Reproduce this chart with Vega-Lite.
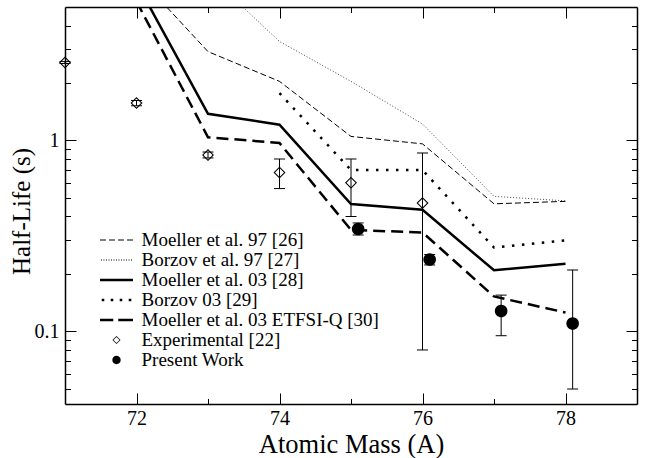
{
  "$schema": "https://vega.github.io/schema/vega-lite/v6.json",
  "width": 572,
  "height": 397,
  "autosize": "none",
  "padding": {"left": 65, "top": 7, "right": 10, "bottom": 54},
  "background": "white",
  "config": {
    "view": {"stroke": null},
    "font": "Liberation Serif",
    "axis": {
      "grid": false,
      "domainColor": "black",
      "domainWidth": 1.5,
      "tickColor": "black",
      "tickWidth": 1,
      "labelColor": "black",
      "labelFont": "Liberation Serif",
      "labelFontSize": 20,
      "titleFont": "Liberation Serif",
      "titleColor": "black",
      "titleFontWeight": "normal",
      "labelFlush": false,
      "labelOverlap": false
    }
  },
  "data": {
    "values": [
      {"series": "Moeller et al. 97 [26]", "A": 72, "T": 7.4},
      {"series": "Moeller et al. 97 [26]", "A": 73, "T": 2.92},
      {"series": "Moeller et al. 97 [26]", "A": 74, "T": 2.04},
      {"series": "Moeller et al. 97 [26]", "A": 75, "T": 1.05},
      {"series": "Moeller et al. 97 [26]", "A": 76, "T": 0.96},
      {"series": "Moeller et al. 97 [26]", "A": 77, "T": 0.466},
      {"series": "Moeller et al. 97 [26]", "A": 78, "T": 0.48},
      {"series": "Borzov et al. 97 [27]", "A": 73, "T": 7.4},
      {"series": "Borzov et al. 97 [27]", "A": 74, "T": 3.3},
      {"series": "Borzov et al. 97 [27]", "A": 75, "T": 2.04},
      {"series": "Borzov et al. 97 [27]", "A": 76, "T": 1.22},
      {"series": "Borzov et al. 97 [27]", "A": 77, "T": 0.51},
      {"series": "Borzov et al. 97 [27]", "A": 78, "T": 0.483},
      {"series": "Moeller et al. 03 [28]", "A": 72, "T": 6.7},
      {"series": "Moeller et al. 03 [28]", "A": 73, "T": 1.38},
      {"series": "Moeller et al. 03 [28]", "A": 74, "T": 1.21},
      {"series": "Moeller et al. 03 [28]", "A": 75, "T": 0.465},
      {"series": "Moeller et al. 03 [28]", "A": 76, "T": 0.434},
      {"series": "Moeller et al. 03 [28]", "A": 77, "T": 0.209},
      {"series": "Moeller et al. 03 [28]", "A": 78, "T": 0.226},
      {"series": "Borzov 03 [29]", "A": 74, "T": 1.77},
      {"series": "Borzov 03 [29]", "A": 75, "T": 0.7},
      {"series": "Borzov 03 [29]", "A": 76, "T": 0.7},
      {"series": "Borzov 03 [29]", "A": 77, "T": 0.275},
      {"series": "Borzov 03 [29]", "A": 78, "T": 0.3},
      {"series": "Moeller et al. 03 ETFSI-Q [30]", "A": 72, "T": 5.35},
      {"series": "Moeller et al. 03 ETFSI-Q [30]", "A": 73, "T": 1.04},
      {"series": "Moeller et al. 03 ETFSI-Q [30]", "A": 74, "T": 0.97},
      {"series": "Moeller et al. 03 ETFSI-Q [30]", "A": 75, "T": 0.34},
      {"series": "Moeller et al. 03 ETFSI-Q [30]", "A": 76, "T": 0.33},
      {"series": "Moeller et al. 03 ETFSI-Q [30]", "A": 77, "T": 0.1525},
      {"series": "Moeller et al. 03 ETFSI-Q [30]", "A": 78, "T": 0.1257},
      {"series": "Experimental [22]", "A": 71, "T": 2.56, "lo": 2.53, "hi": 2.59},
      {"series": "Experimental [22]", "A": 72, "T": 1.57, "lo": 1.52, "hi": 1.62},
      {"series": "Experimental [22]", "A": 73, "T": 0.84, "lo": 0.81, "hi": 0.87},
      {"series": "Experimental [22]", "A": 74, "T": 0.68, "lo": 0.56, "hi": 0.8},
      {"series": "Experimental [22]", "A": 75, "T": 0.6, "lo": 0.4, "hi": 0.8},
      {"series": "Experimental [22]", "A": 76, "T": 0.47, "lo": 0.08, "hi": 0.86},
      {"series": "Present Work", "A": 75.1, "T": 0.344, "lo": 0.32, "hi": 0.37},
      {"series": "Present Work", "A": 76.1, "T": 0.238, "lo": 0.223, "hi": 0.253},
      {"series": "Present Work", "A": 77.1, "T": 0.128, "lo": 0.095, "hi": 0.155},
      {"series": "Present Work", "A": 78.1, "T": 0.11, "lo": 0.05, "hi": 0.21}
    ]
  },
  "resolve": {"axis": {"x": "independent", "y": "independent"}},
  "layer": [
    {
      "transform": [{"filter": "datum.series == 'Moeller et al. 97 [26]'"}],
      "mark": {"type": "line", "clip": true, "color": "black", "strokeWidth": 1, "strokeDash": [6, 3]},
      "encoding": {
        "x": {"field": "A", "type": "quantitative", "scale": {"domain": [71, 79], "nice": false, "zero": false},
          "axis": {
            "orient": "bottom",
            "values": [72, 73, 74, 75, 76, 77, 78],
            "labelExpr": "datum.value % 2 == 0 ? datum.label : ''",
            "tickSize": {"condition": {"test": "datum.value % 2 == 0", "value": -11}, "value": -5.5},
            "labelPadding": 31.5,
            "labelBaseline": "alphabetic",
            "title": "Atomic Mass (A)",
            "titleFontSize": 26.5,
            "titleBaseline": "alphabetic",
            "titleY": 48.3
          }},
        "y": {"field": "T", "type": "quantitative", "scale": {"type": "log", "domain": [0.0417, 5], "nice": false},
          "axis": {
            "orient": "left",
            "values": [0.05, 0.06, 0.07, 0.08, 0.09, 0.1, 0.2, 0.3, 0.4, 0.5, 0.6, 0.7, 0.8, 0.9, 1, 2, 3, 4],
            "labelExpr": "datum.value == 1 ? '1' : (datum.value == 0.1 ? '0.1' : '')",
            "tickSize": {"condition": {"test": "datum.value == 1 || datum.value == 0.1", "value": -11}, "value": -5.5},
            "labelPadding": 17,
            "title": "Half-Life (s)",
            "titleFontSize": 25,
            "titleBaseline": "alphabetic",
            "titleAngle": -90,
            "titleX": -36,
            "titleY": 204
          }}
      }
    },
    {
      "transform": [{"filter": "datum.series == 'Borzov et al. 97 [27]'"}],
      "mark": {"type": "line", "clip": true, "color": "#333333", "strokeWidth": 0.9, "strokeDash": [1, 2]},
      "encoding": {
        "x": {"field": "A", "type": "quantitative", "scale": {"domain": [71, 79], "nice": false, "zero": false}, "axis": null},
        "y": {"field": "T", "type": "quantitative", "scale": {"type": "log", "domain": [0.0417, 5], "nice": false}, "axis": null}
      }
    },
    {
      "transform": [{"filter": "datum.series == 'Moeller et al. 03 [28]'"}],
      "mark": {"type": "line", "clip": true, "color": "black", "strokeWidth": 2.5},
      "encoding": {
        "x": {"field": "A", "type": "quantitative", "scale": {"domain": [71, 79], "nice": false, "zero": false}, "axis": null},
        "y": {"field": "T", "type": "quantitative", "scale": {"type": "log", "domain": [0.0417, 5], "nice": false}, "axis": null}
      }
    },
    {
      "transform": [{"filter": "datum.series == 'Borzov 03 [29]'"}],
      "mark": {"type": "line", "clip": true, "color": "black", "strokeWidth": 2.5, "strokeDash": [2.5, 7.5], "strokeCap": "butt"},
      "encoding": {
        "x": {"field": "A", "type": "quantitative", "scale": {"domain": [71, 79], "nice": false, "zero": false}, "axis": null},
        "y": {"field": "T", "type": "quantitative", "scale": {"type": "log", "domain": [0.0417, 5], "nice": false}, "axis": null}
      }
    },
    {
      "transform": [{"filter": "datum.series == 'Moeller et al. 03 ETFSI-Q [30]'"}],
      "mark": {"type": "line", "clip": true, "color": "black", "strokeWidth": 2.5, "strokeDash": [12, 6]},
      "encoding": {
        "x": {"field": "A", "type": "quantitative", "scale": {"domain": [71, 79], "nice": false, "zero": false}, "axis": null},
        "y": {"field": "T", "type": "quantitative", "scale": {"type": "log", "domain": [0.0417, 5], "nice": false}, "axis": null}
      }
    },
    {
      "transform": [{"filter": "isValid(datum.lo)"}],
      "mark": {"type": "rule", "color": "black", "strokeWidth": 1},
      "encoding": {
        "x": {"field": "A", "type": "quantitative", "scale": {"domain": [71, 79], "nice": false, "zero": false}, "axis": null},
        "y": {"field": "lo", "type": "quantitative", "scale": {"type": "log", "domain": [0.0417, 5], "nice": false}, "axis": null},
        "y2": {"field": "hi"}
      }
    },
    {
      "transform": [{"filter": "isValid(datum.lo)"}],
      "mark": {"type": "tick", "orient": "horizontal", "size": 11, "thickness": 1, "color": "black", "opacity": 1},
      "encoding": {
        "x": {"field": "A", "type": "quantitative", "scale": {"domain": [71, 79], "nice": false, "zero": false}, "axis": null},
        "y": {"field": "lo", "type": "quantitative", "scale": {"type": "log", "domain": [0.0417, 5], "nice": false}, "axis": null}
      }
    },
    {
      "transform": [{"filter": "isValid(datum.hi)"}],
      "mark": {"type": "tick", "orient": "horizontal", "size": 11, "thickness": 1, "color": "black", "opacity": 1},
      "encoding": {
        "x": {"field": "A", "type": "quantitative", "scale": {"domain": [71, 79], "nice": false, "zero": false}, "axis": null},
        "y": {"field": "hi", "type": "quantitative", "scale": {"type": "log", "domain": [0.0417, 5], "nice": false}, "axis": null}
      }
    },
    {
      "transform": [{"filter": "isValid(datum.lo)"}],
      "mark": {"type": "point", "filled": true, "size": 900, "color": "black", "strokeWidth": 0, "opacity": 1},
      "encoding": {
        "x": {"field": "A", "type": "quantitative", "scale": {"domain": [71, 79], "nice": false, "zero": false},
          "axis": {
            "orient": "top",
            "values": [72, 73, 74, 75, 76, 77, 78],
            "labels": false,
            "title": null,
            "tickSize": {"condition": {"test": "datum.value % 2 == 0", "value": -11}, "value": -5.5}
          }},
        "y": {"field": "T", "type": "quantitative", "scale": {"type": "log", "domain": [0.0417, 5], "nice": false},
          "axis": {
            "orient": "right",
            "values": [0.05, 0.06, 0.07, 0.08, 0.09, 0.1, 0.2, 0.3, 0.4, 0.5, 0.6, 0.7, 0.8, 0.9, 1, 2, 3, 4],
            "labels": false,
            "title": null,
            "tickSize": {"condition": {"test": "datum.value == 1 || datum.value == 0.1", "value": -11}, "value": -5.5}
          }},
        "shape": {
          "field": "series",
          "type": "nominal",
          "scale": {
            "domain": ["Moeller et al. 97 [26]", "Borzov et al. 97 [27]", "Moeller et al. 03 [28]", "Borzov 03 [29]", "Moeller et al. 03 ETFSI-Q [30]", "Experimental [22]", "Present Work"],
            "range": [
              "M-1.65,-0.05H-1.05V0.05H-1.65ZM-0.75,-0.05H-0.15V0.05H-0.75ZM0.15,-0.05H0.75V0.05H0.15ZM1.05,-0.05H1.65V0.05H1.05Z",
              "M-1.55,-0.05h0.1v0.1h-0.1ZM-1.3,-0.05h0.1v0.1h-0.1ZM-1.05,-0.05h0.1v0.1h-0.1ZM-0.8,-0.05h0.1v0.1h-0.1ZM-0.55,-0.05h0.1v0.1h-0.1ZM-0.3,-0.05h0.1v0.1h-0.1ZM-0.05,-0.05h0.1v0.1h-0.1ZM0.2,-0.05h0.1v0.1h-0.1ZM0.45,-0.05h0.1v0.1h-0.1ZM0.7,-0.05h0.1v0.1h-0.1ZM0.95,-0.05h0.1v0.1h-0.1ZM1.2,-0.05h0.1v0.1h-0.1ZM1.45,-0.05h0.1v0.1h-0.1Z",
              "M-1.65,-0.13H1.65V0.13H-1.65Z",
              "M-1.48,-0.13h0.26v0.26h-0.26ZM-0.58,-0.13h0.26v0.26h-0.26ZM0.32,-0.13h0.26v0.26h-0.26ZM1.22,-0.13h0.26v0.26h-0.26Z",
              "M-1.65,-0.13H-0.32V0.13H-1.65ZM0.18,-0.13H1.65V0.13H0.18Z",
              "M0,-0.4L0.4,0L0,0.4L-0.4,0ZM0,-0.3L-0.3,0L0,0.3L0.3,0Z",
              "M0.42,0A0.42,0.42,0,1,1,-0.42,0A0.42,0.42,0,1,1,0.42,0Z"
            ]
          },
          "legend": {
            "orient": "none",
            "legendX": 41.5,
            "legendY": 223,
            "title": null,
            "padding": 0,
            "rowPadding": 0,
            "symbolSize": 400,
            "symbolFillColor": "black",
            "symbolStrokeColor": "transparent",
            "symbolStrokeWidth": 0,
            "symbolOpacity": 1,
            "labelFont": "Liberation Serif",
            "labelFontSize": 19,
            "labelColor": "black",
            "labelOffset": 15,
            "labelLimit": 500,
            "labelBaseline": "middle"
          }
        }
      }
    }
  ]
}
